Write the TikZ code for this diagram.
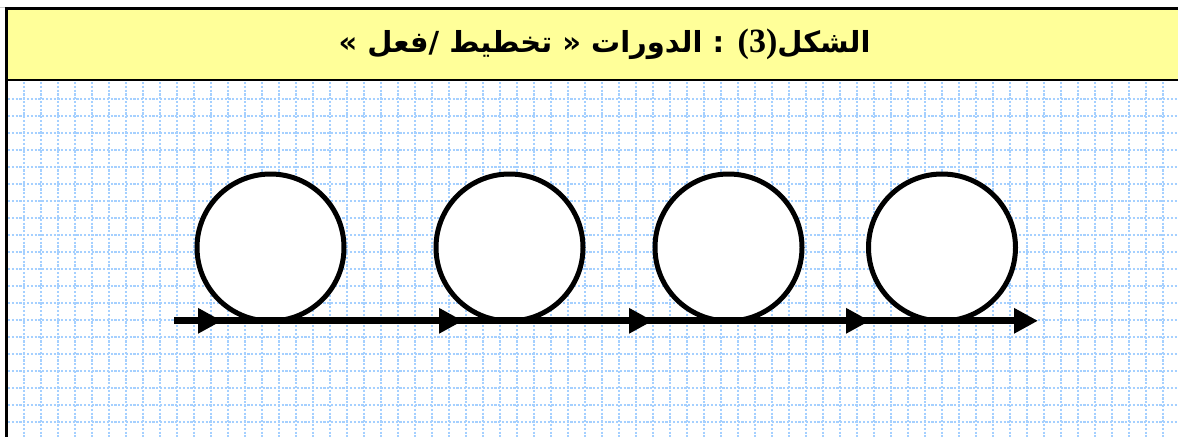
\documentclass[tikz,border=0pt]{standalone}
\usepackage{fontspec}
\usetikzlibrary{arrows.meta,decorations.markings}
\TeXXeTstate=1
\newfontfamily\arabicfont[Script=Arabic]{DejaVu Sans}
\newfontfamily\serifb{Liberation Serif}
\definecolor{gridblue}{RGB}{165,208,255}
\definecolor{titleyellow}{RGB}{255,255,153}
\tikzset{
  gridline/.style={draw=gridblue,line width=1.5pt,dash pattern=on 2.2pt off 1.6pt},
  ring/.style={circle,draw=black,line width=5pt,fill=white,minimum size=147pt,inner sep=0pt},
  flowline/.style={line width=7pt,draw=black},
  titlebox/.style={draw=black,line width=2.5pt,fill=titleyellow},
  titletext/.style={font=\arabicfont\bfseries\fontsize{29}{32}\selectfont,inner sep=0pt}
}
\begin{document}
\begin{tikzpicture}[x=1pt,y=-1pt]
\useasboundingbox (0,0) rectangle (1178,437);
\fill[white] (0,0) rectangle (1178,437);
% grid
\foreach \k in {0,...,67} {\draw[gridline] ({24+17*\k},82) -- ({24+17*\k},437);}
\foreach \k in {0,...,19} {\draw[gridline] (8,{99+17*\k}) -- (1178,{99+17*\k});}
% frame
\draw[gray!40,line width=1pt] (0,7) -- (1178,7);
\draw[black,line width=2.5pt] (6.5,80) -- (6.5,437);
\draw[titlebox] (6.5,8.5) rectangle (1182,80);
\node[titletext] (title) at (604.5,44) {» \beginR فعل\endR/ \beginR تخطيط\endR{} « \beginR الدورات\endR{} : {\serifb\bfseries\fontsize{34}{36}\selectfont(3)}\beginR الشكل\endR};
% circles
\node[ring] (c1) at (270.5,247.5) {};
\node[ring] (c2) at (509.5,247.5) {};
\node[ring] (c3) at (728.5,247.5) {};
\node[ring] (c4) at (942,247.5) {};
% flow line
\coordinate (start) at (174,320.8);
\coordinate (end) at (1038,320.8);
\draw[flowline,-{Triangle[length=24pt,width=24pt]},
  postaction={decorate},
  decoration={markings,
    mark=at position 48pt with {\arrow{Triangle[length=24pt,width=24pt]}},
    mark=at position 289pt with {\arrow{Triangle[length=24pt,width=24pt]}},
    mark=at position 479pt with {\arrow{Triangle[length=24pt,width=24pt]}},
    mark=at position 696pt with {\arrow{Triangle[length=24pt,width=24pt]}}}]
  (start) -- (end);
\end{tikzpicture}
\end{document}
